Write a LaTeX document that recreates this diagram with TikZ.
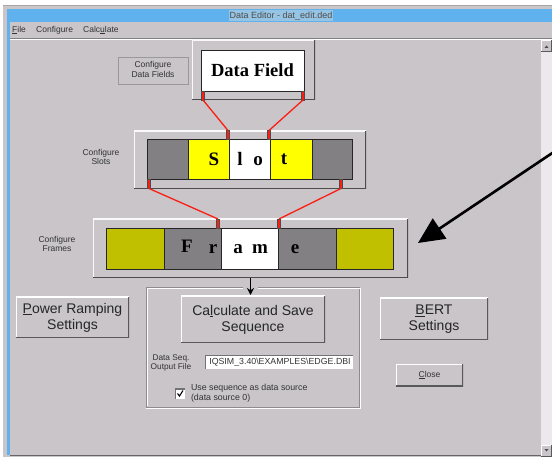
\documentclass[tikz,border=0pt]{standalone}
\usepackage{fontspec}
\setmainfont{Liberation Sans}
\newfontfamily\boldserif{Liberation Serif}[BoldFont={Liberation Serif Bold}]
\usetikzlibrary{arrows.meta}

\definecolor{winbg}{RGB}{201,197,201}
\definecolor{winlight}{RGB}{236,232,236}
\definecolor{titleblue}{RGB}{96,178,238}
\definecolor{titlesel}{RGB}{150,196,228}
\definecolor{cellgray}{RGB}{130,128,130}
\definecolor{cellyellow}{RGB}{255,255,0}
\definecolor{cellolive}{RGB}{192,192,0}
\definecolor{linkred}{RGB}{250,30,20}

\tikzset{
  small/.style={font=\fontsize{8.5}{9.5}\selectfont, text=black!80},
  raised/.style={fill=winbg, inner sep=0pt, outer sep=0pt,
    path picture={
      \draw[white, line width=2.4pt]
        (path picture bounding box.south west) -- (path picture bounding box.north west)
        -- (path picture bounding box.north east);
      \draw[black!65, line width=2.4pt]
        (path picture bounding box.south west) -- (path picture bounding box.south east)
        -- (path picture bounding box.north east);
    }},
  panel/.style={fill=winbg, inner sep=0pt, outer sep=0pt,
    path picture={
      \draw[white!90!winbg, line width=2pt]
        (path picture bounding box.south west) -- (path picture bounding box.north west)
        -- (path picture bounding box.north east);
      \draw[black!70, line width=2pt]
        (path picture bounding box.south west) -- (path picture bounding box.south east)
        -- (path picture bounding box.north east);
    }},
  flatbtn/.style={fill=winbg, draw=black!40, inner sep=0pt, outer sep=0pt},
  btnlabel/.style={font=\fontsize{14}{16}\selectfont, align=center, text=black!85},
  cell/.style={draw=black!85, line width=0.8pt, minimum height=40pt, inner sep=0pt, outer sep=0pt},
  glyph/.style={font=\boldserif\bfseries\fontsize{19}{19}\selectfont, inner sep=0pt},
  tick/.style={fill=linkred, draw=black!70, line width=0.4pt, minimum width=3pt, minimum height=9pt, inner sep=0pt, outer sep=0pt},
  link/.style={draw=linkred, line width=1.3pt},
  sunken/.style={fill=white, inner sep=0pt, outer sep=0pt,
    path picture={
      \draw[black!55, line width=2pt]
        (path picture bounding box.south west) -- (path picture bounding box.north west)
        -- (path picture bounding box.north east);
    }},
}

\begin{document}
\begin{tikzpicture}[x=1pt, y=-1pt]
\useasboundingbox (0,0) rectangle (552,457);
\fill[white] (0,0) rectangle (552,457);

% window body and frame
\fill[winbg] (3,5) rectangle (552,457);
\draw[black!35] (3,5.5) -- (552,5.5);
\fill[titleblue] (7,9) rectangle (552,22);
\fill[titlesel] (229,10) rectangle (333,21);
\fill[titleblue] (7,9) rectangle (9.5,455);
\node[font=\fontsize{9}{10}\selectfont, text=black!70, inner sep=0pt] (title) at (281,16) {Data Editor - dat\_edit.ded};
\draw[black!60] (9.5,455.5) -- (552,455.5);

% menu bar
\node[small, anchor=west, inner sep=0pt] (mfile) at (12,30) {\underline{F}ile};
\node[small, anchor=west, inner sep=0pt] (mconf) at (36,30) {Configure};
\node[small, anchor=west, inner sep=0pt] (mcalc) at (83,30) {Calc\underline{u}late};
\draw[black!50] (9.5,38.5) -- (552,38.5);
\draw[white] (9.5,39.5) -- (552,39.5);

% scroll bar
\fill[winlight] (541,40) rectangle (552,457);
\node[raised, minimum width=11pt, minimum height=12pt] (sup) at (546.5,46) {};
\fill[black!70] (544.5,48) -- (548.5,48) -- (546.5,45.5) -- cycle;
\node[raised, minimum width=11pt, minimum height=12pt] (sdown) at (546.5,451) {};
\fill[black!70] (544.5,449) -- (548.5,449) -- (546.5,451.5) -- cycle;

% data field level
\node[flatbtn, minimum width=70pt, minimum height=27pt] (cfgfields) at (153,70.5) {};
\node[small, align=center] (cfgfieldslbl) at (153,69.5) {Configure\\Data Fields};
\node[panel, minimum width=123pt, minimum height=60pt] (dfpanel) at (253.5,70) {};
\node[fill=white, draw=black!85, line width=0.8pt, minimum width=103pt, minimum height=41pt, inner sep=0pt, outer sep=0pt,
      font=\boldserif\bfseries\fontsize{18.5}{18.5}\selectfont] (datafield) at (252.5,70.5) {Data Field};
\node[tick] (dftl) at (203,95.5) {};
\node[tick] (dftr) at (303,95.5) {};

% slot level
\node[small, align=center] (cfgslots) at (101,157) {Configure\\Slots};
\node[panel, minimum width=232pt, minimum height=58pt] (slotpanel) at (250,160) {};
\node[cell, fill=cellgray,   minimum width=41pt] (s1) at (167.5,159) {};
\node[cell, fill=cellyellow, minimum width=41pt] (s2) at (208.5,159) {};
\node[cell, fill=white,      minimum width=41pt] (s3) at (249.5,159) {};
\node[cell, fill=cellyellow, minimum width=42pt] (s4) at (291,159) {};
\node[cell, fill=cellgray,   minimum width=40pt] (s5) at (332,159) {};
\node[glyph] (gS) at (214,159) {S};
\node[glyph] (gl) at (240,158.5) {l};
\node[glyph] (go) at (258,161) {o};
\node[glyph] (gt) at (284,159.5) {t};
\node[tick] (sttl) at (228,135) {};
\node[tick] (sttr) at (269,135) {};
\node[tick] (sbl) at (149,184) {};
\node[tick] (sbr) at (341,184) {};

% frame level
\node[small, align=center] (cfgframes) at (57,244) {Configure\\Frames};
\node[panel, minimum width=315pt, minimum height=59pt] (framepanel) at (250.5,248.5) {};
\node[cell, fill=cellolive, minimum width=58pt, minimum height=41pt] (f1) at (135,248.5) {};
\node[cell, fill=cellgray,  minimum width=57pt, minimum height=41pt] (f2) at (192.5,248.5) {};
\node[cell, fill=white,     minimum width=57pt, minimum height=41pt] (f3) at (249.5,248.5) {};
\node[cell, fill=cellgray,  minimum width=58pt, minimum height=41pt] (f4) at (307,248.5) {};
\node[cell, fill=cellolive, minimum width=57pt, minimum height=41pt] (f5) at (364.5,248.5) {};
\node[glyph] (gF) at (187,246.5) {F};
\node[glyph] (gr) at (213,249.5) {r};
\node[glyph] (ga) at (238,249.5) {a};
\node[glyph] (gm) at (260,249.5) {m};
\node[glyph] (ge) at (295,249.5) {e};
\node[tick] (fttl) at (218,223.5) {};
\node[tick] (fttr) at (279,223.5) {};

% red links between levels
\draw[link] (dftl.south) -- (sttl.north);
\draw[link] (dftr.south) -- (sttr.north);
\draw[link] (sbl.south) -- (fttl.north);
\draw[link] (sbr.south) -- (fttr.north);

% calculation group
\draw[black!45] (243,287) -- (146,287) -- (146,407) -- (359,407) -- (359,287) -- (258,287);
\draw[white] (243,288) -- (147,288) -- (147,406);
\draw[white] (146,408) -- (360,408) -- (360,288) -- (258,288);
\coordinate (calcin) at (250.5,295);
\draw[line width=1.6pt, -{Stealth[length=7pt, width=7pt]}] (framepanel.south) -- (calcin);

\node[raised, minimum width=144pt, minimum height=47pt] (calc) at (253,319.5) {};
\node[btnlabel] (calclbl) at (253,319.5) {Ca\underline{l}culate and Save\\Sequence};
\node[small, align=center, font=\fontsize{8.3}{9.5}\selectfont] (seqlbl) at (171,363) {Data Seq.\\Output File};
\node[sunken, minimum width=148pt, minimum height=14pt] (seqfile) at (279,362) {};
\node[font=\fontsize{8.8}{9}\selectfont, text=black!80, inner sep=0pt] (seqpath) at (280,362.5) {IQSIM\_3.40\textbackslash EXAMPLES\textbackslash EDGE.DBI};
\node[sunken, minimum width=10pt, minimum height=10pt] (chk) at (180,393.5) {};
\draw[black, line width=1.1pt] (177.5,393.5) -- (179.5,396) -- (183,390.5);
\node[small, font=\fontsize{8.8}{10}\selectfont, anchor=west, align=left] (chklbl) at (187.5,393) {Use sequence as data source\\(data source 0)};

% side buttons
\node[raised, minimum width=113pt, minimum height=41pt] (power) at (72.5,317.5) {};
\node[btnlabel] (powerlbl) at (72.5,317.5) {\underline{P}ower Ramping\\Settings};
\node[raised, minimum width=108pt, minimum height=42pt] (bert) at (434,319) {};
\node[btnlabel] (bertlbl) at (434,319) {\underline{B}ERT\\Settings};
\node[raised, minimum width=67pt, minimum height=22pt] (close) at (429.5,375) {};
\node[small] (closelbl) at (429.5,375) {\underline{C}lose};

% pointer arrow
\coordinate (pstart) at (556,150.5);
\coordinate (ptip) at (418,243);
\draw[line width=2.6pt, -{Triangle[length=26pt, width=24pt]}] (pstart) -- (ptip);
\end{tikzpicture}
\end{document}
